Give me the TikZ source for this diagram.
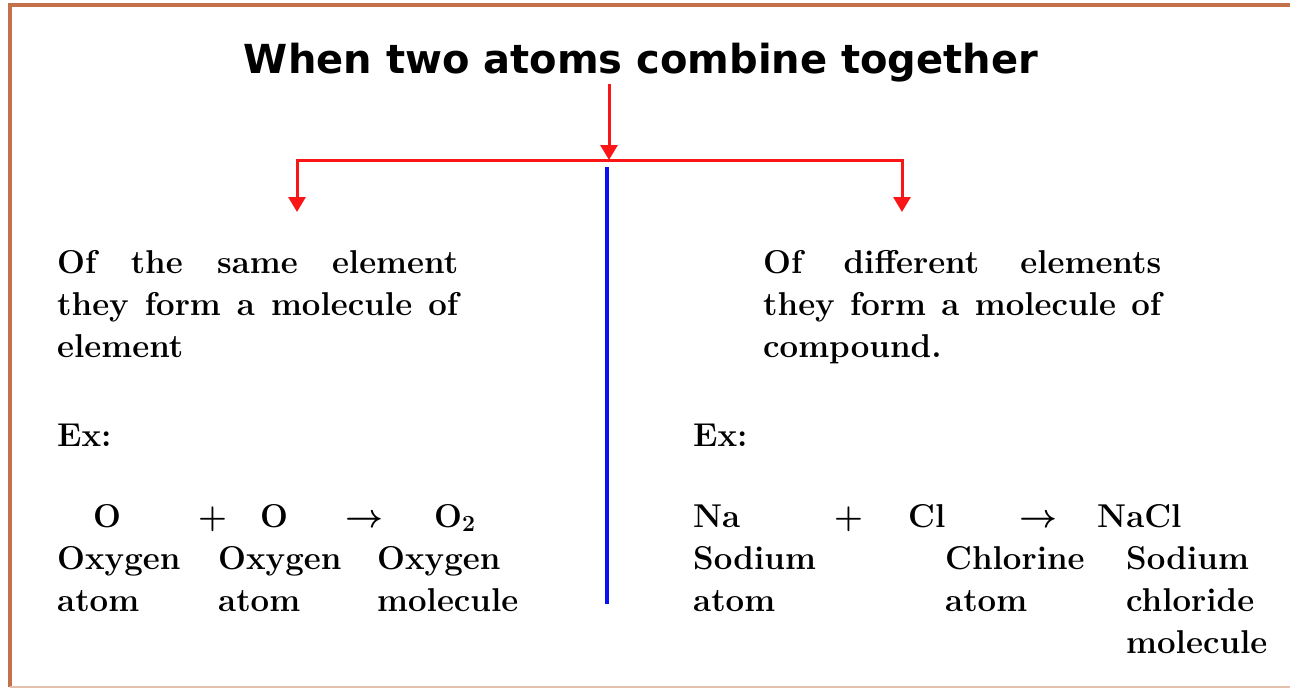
\RequirePackage{fix-cm}
\documentclass[tikz,border=0pt]{standalone}
\usepackage{fontspec}
\usepackage{tikz}
\usetikzlibrary{arrows.meta}
\newfontfamily\headfont{DejaVu Sans}
\definecolor{framebrown}{RGB}{196, 112, 74}
\definecolor{splitred}{RGB}{250, 22, 22}
\definecolor{dividerblue}{RGB}{10, 16, 245}

\begin{document}
\begin{tikzpicture}[x=1pt, y=-1pt, >={Triangle[width=17pt, length=15pt]},
    body/.style={anchor=base west, inner sep=0pt, font=\fontsize{33}{42}\selectfont\bfseries\boldmath},
    para/.style={body, text width=#1, align=justify},
    tag/.style={body, text width=160pt, align=left},
    flow/.style={splitred, line width=3pt}]
    \useasboundingbox (0,0) rectangle (1290,689);
    \draw[framebrown, line width=4pt] (1290,5) -- (10,5) -- (10,687);
    \draw[framebrown!45, line width=2.5pt] (10,687) -- (1290,687);

    % heading and the split
    \node[anchor=base, inner sep=2pt, font=\headfont\bfseries\fontsize{40}{48}\selectfont] (title) at (641,73) {When two atoms combine together};
    \coordinate (split) at (609,160);
    \coordinate (sametip) at (297,212);
    \coordinate (difftip) at (902,212);
    \coordinate (divtop) at (607,167);
    \coordinate (divbot) at (607,604);
    \draw[flow, ->] (title.south -| split) -- (split);
    \draw[flow, ->] (split) -| (sametip);
    \draw[flow, ->] (split) -| (difftip);
    \draw[dividerblue, line width=4pt] (divtop) -- (divbot);

    % same element
    \node[para=401pt] (same) at (57,273) {\hyphenpenalty=10000 Of the same element\linebreak they form a molecule of\linebreak element};
    \node[body] (exsame) at (57,446) {Ex:};
    \node[body] (oxa) at (93,527) {O};
    \node[body] (plussame) at (198,527) {+};
    \node[body] (oxb) at (260,527) {O};
    \node[body] (yieldsame) at (345,527) {$\rightarrow$};
    \node[body] (oxtwo) at (434,527) {O$_{\mathbf{2}}$};
    \node[tag] (oxalbl) at (57,569) {Oxygen\\atom};
    \node[tag] (oxblbl) at (218,569) {Oxygen\\atom};
    \node[tag] (oxtwolbl) at (377,569) {Oxygen\\molecule};

    % different elements
    \node[para=398pt] (diff) at (763,273) {\hyphenpenalty=10000 Of different elements\linebreak they form a molecule of\linebreak compound.};
    \node[body] (exdiff) at (693,446) {Ex:};
    \node[body] (na) at (693,527) {Na};
    \node[body] (plusdiff) at (834,527) {+};
    \node[body] (cl) at (908,527) {Cl};
    \node[body] (yielddiff) at (1019,527) {$\rightarrow$};
    \node[body] (nacl) at (1097,527) {NaCl};
    \node[tag] (nalbl) at (693,569) {Sodium\\atom};
    \node[tag] (cllbl) at (945,569) {Chlorine\\atom};
    \node[tag, text width=150pt] (nacllbl) at (1126,569) {Sodium\\chloride\\molecule};
\end{tikzpicture}
\end{document}
